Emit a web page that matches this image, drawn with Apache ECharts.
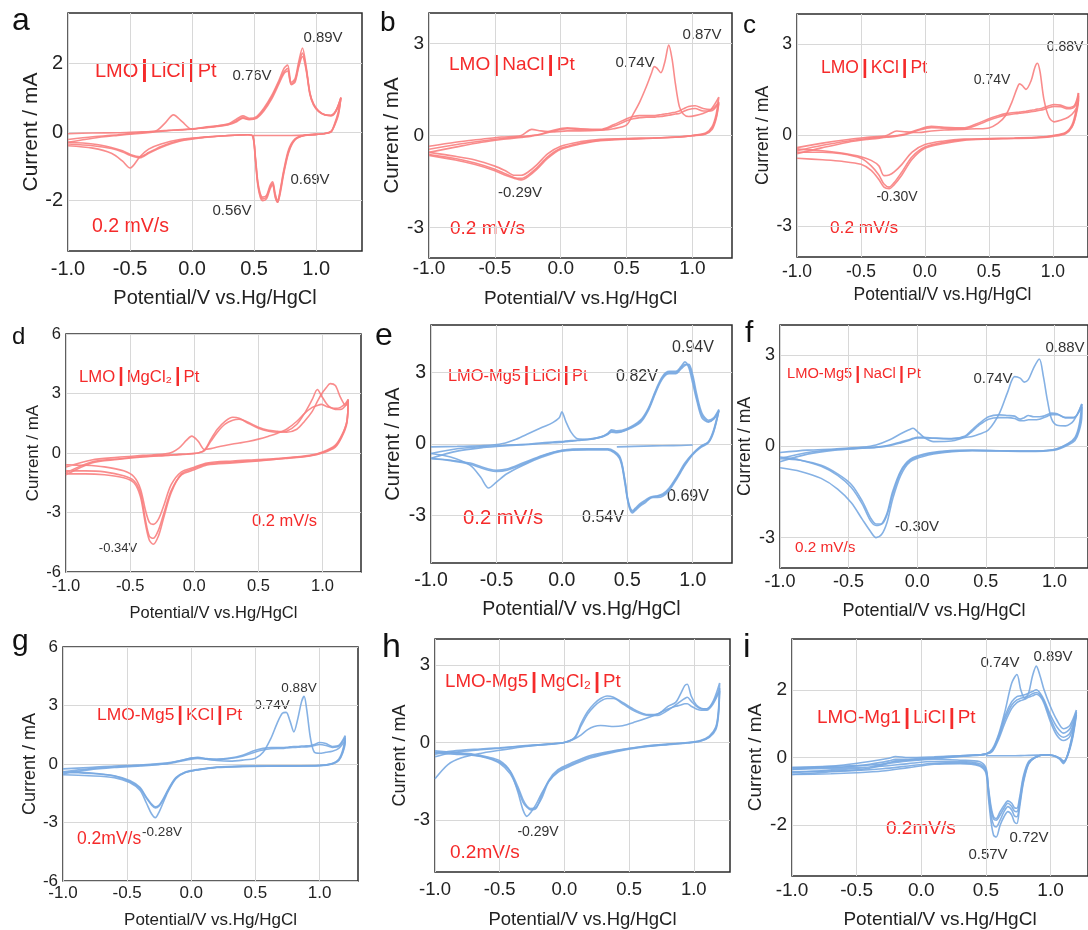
<!DOCTYPE html>
<html>
<head>
<meta charset="utf-8">
<script src="https://cdn.jsdelivr.net/npm/echarts@6/dist/echarts.min.js"></script>
<style>
  html, body { margin: 0; background: #fff; }
  #main { width: 1088px; height: 930px; }
</style>
</head>
<body>
<div id="main"></div>
<script>
// ---- data (potential V, current mA) ----
// a: LMO | LiCl | Pt
const aFwdX = [-1.0, -0.8, -0.6, -0.45, -0.3, -0.22, -0.15, -0.08, 0.0, 0.1, 0.2, 0.3, 0.36, 0.41, 0.46, 0.52, 0.58, 0.64, 0.7, 0.74, 0.77, 0.8, 0.83, 0.86, 0.89, 0.92, 0.95, 0.98, 1.02, 1.07, 1.12, 1.16, 1.2];
const aFwd1 = [-0.05, -0.03, -0.02, 0.0, 0.02, 0.25, 0.5, 0.3, 0.08, 0.14, 0.18, 0.25, 0.38, 0.47, 0.4, 0.45, 0.7, 1.05, 1.5, 1.85, 1.95, 1.45, 1.55, 2.05, 2.45, 1.9, 1.15, 0.82, 0.62, 0.5, 0.47, 0.6, 1.0];
const aFwd2 = [-0.22, -0.14, -0.08, -0.03, 0.02, 0.04, 0.06, 0.07, 0.09, 0.13, 0.17, 0.23, 0.33, 0.42, 0.37, 0.42, 0.66, 1.0, 1.45, 1.75, 1.85, 1.4, 1.5, 1.95, 2.3, 1.85, 1.12, 0.8, 0.6, 0.5, 0.48, 0.62, 1.0];
const aFwd3 = [-0.3, -0.18, -0.1, -0.05, 0.0, 0.03, 0.05, 0.06, 0.08, 0.12, 0.16, 0.22, 0.3, 0.4, 0.36, 0.4, 0.62, 0.95, 1.4, 1.7, 1.78, 1.38, 1.45, 1.9, 2.2, 1.8, 1.1, 0.78, 0.6, 0.5, 0.49, 0.63, 1.0];
const aRevX = [1.2, 1.18, 1.15, 1.12, 1.06, 1.0, 0.9, 0.83, 0.78, 0.74, 0.71, 0.69, 0.67, 0.65, 0.63, 0.6, 0.57, 0.55, 0.53, 0.51, 0.49, 0.45, 0.3, 0.1, -0.1, -0.25, -0.35, -0.42, -0.5, -0.56, -0.65, -0.8, -1.0];
const aRev1 = [1.0, 0.6, 0.25, 0.02, -0.05, -0.07, -0.1, -0.2, -0.5, -1.1, -1.7, -2.0, -1.8, -1.45, -1.55, -1.85, -1.9, -1.8, -1.45, -0.7, -0.12, -0.08, -0.1, -0.15, -0.22, -0.35, -0.5, -0.72, -1.05, -0.85, -0.62, -0.47, -0.4];
const aRev2 = [1.0, 0.55, 0.22, 0.01, -0.05, -0.07, -0.1, -0.22, -0.55, -1.15, -1.75, -2.05, -1.85, -1.5, -1.6, -1.9, -1.95, -1.85, -1.5, -0.75, -0.12, -0.08, -0.1, -0.15, -0.25, -0.42, -0.6, -0.72, -0.65, -0.55, -0.45, -0.35, -0.3];
const aRev3 = [1.0, 0.5, 0.2, 0.0, -0.05, -0.07, -0.11, -0.23, -0.58, -1.2, -1.8, -2.05, -1.9, -1.55, -1.65, -1.95, -2.0, -1.9, -1.55, -0.8, -0.13, -0.08, -0.1, -0.16, -0.27, -0.45, -0.62, -0.75, -0.68, -0.58, -0.48, -0.4, -0.35];
const aInitX = [0.49, 0.6, 0.7, 0.8, 0.9, 1.0];
const aInitY = [-0.1, -0.1, -0.1, -0.1, -0.09, -0.07];

// b: LMO | NaCl | Pt
const bFwdX = [-1.0, -0.8, -0.6, -0.45, -0.3, -0.22, -0.15, -0.05, 0.05, 0.15, 0.3, 0.4, 0.5, 0.55, 0.6, 0.65, 0.69, 0.71, 0.73, 0.76, 0.79, 0.82, 0.845, 0.87, 0.9, 0.93, 0.97, 1.02, 1.08, 1.14, 1.2];
const bFwd1 = [-0.35, -0.22, -0.12, -0.05, 0.0, 0.2, 0.15, 0.12, 0.15, 0.15, 0.17, 0.22, 0.35, 0.7, 1.1, 1.6, 2.05, 2.25, 2.2, 2.05, 2.4, 2.95, 2.5, 1.7, 0.95, 0.7, 0.62, 0.65, 0.72, 0.85, 1.25];
const bFwd2 = [-0.45, -0.3, -0.18, -0.1, -0.04, 0.0, 0.05, 0.18, 0.25, 0.22, 0.2, 0.35, 0.55, 0.62, 0.65, 0.65, 0.65, 0.65, 0.66, 0.68, 0.7, 0.72, 0.74, 0.76, 0.8, 0.87, 0.95, 0.97, 0.88, 0.85, 1.1];
const bFwd3 = [-0.55, -0.38, -0.22, -0.13, -0.06, -0.02, 0.03, 0.15, 0.22, 0.2, 0.18, 0.3, 0.48, 0.55, 0.58, 0.6, 0.6, 0.6, 0.61, 0.62, 0.64, 0.66, 0.68, 0.7, 0.72, 0.78, 0.85, 0.88, 0.8, 0.8, 1.05];
const bRevX = [1.2, 1.18, 1.15, 1.1, 1.0, 0.9, 0.7, 0.5, 0.3, 0.15, 0.0, -0.1, -0.18, -0.25, -0.3, -0.35, -0.42, -0.5, -0.65, -0.8, -1.0];
const bRev1 = [1.25, 0.7, 0.3, 0.08, 0.0, -0.04, -0.08, -0.1, -0.12, -0.2, -0.35, -0.6, -0.95, -1.2, -1.3, -1.3, -1.15, -1.0, -0.8, -0.68, -0.55];
const bRev2 = [1.1, 0.6, 0.25, 0.06, 0.0, -0.05, -0.08, -0.11, -0.15, -0.25, -0.42, -0.7, -1.05, -1.3, -1.4, -1.38, -1.25, -1.1, -0.9, -0.75, -0.62];
const bRev3 = [1.05, 0.55, 0.2, 0.05, -0.01, -0.05, -0.09, -0.12, -0.17, -0.28, -0.45, -0.75, -1.1, -1.35, -1.45, -1.4, -1.3, -1.15, -0.95, -0.8, -0.65];

// c: LMO | KCl | Pt
const cFwdX = [-1.0, -0.8, -0.6, -0.45, -0.3, -0.22, -0.15, -0.05, 0.05, 0.15, 0.3, 0.4, 0.5, 0.57, 0.63, 0.68, 0.72, 0.74, 0.76, 0.79, 0.83, 0.86, 0.88, 0.9, 0.93, 0.97, 1.01, 1.06, 1.12, 1.17, 1.2];
const cFwd1 = [-0.4, -0.25, -0.13, -0.06, 0.0, 0.15, 0.12, 0.1, 0.15, 0.18, 0.2, 0.22, 0.25, 0.4, 0.65, 1.1, 1.55, 1.7, 1.65, 1.52, 1.8, 2.25, 2.38, 2.1, 1.2, 0.6, 0.45, 0.5, 0.6, 0.8, 1.15];
const cFwd2 = [-0.5, -0.32, -0.18, -0.1, -0.04, 0.0, 0.05, 0.2, 0.3, 0.27, 0.25, 0.38, 0.55, 0.65, 0.72, 0.75, 0.76, 0.77, 0.78, 0.8, 0.83, 0.85, 0.87, 0.88, 0.92, 0.98, 1.02, 1.0, 0.92, 1.0, 1.4];
const cFwd3 = [-0.6, -0.4, -0.22, -0.13, -0.06, -0.02, 0.03, 0.17, 0.26, 0.24, 0.22, 0.33, 0.5, 0.6, 0.67, 0.7, 0.72, 0.73, 0.74, 0.76, 0.78, 0.8, 0.82, 0.83, 0.86, 0.92, 0.96, 0.95, 0.88, 0.95, 1.3];
const cRevX = [1.2, 1.18, 1.15, 1.1, 1.0, 0.9, 0.7, 0.5, 0.3, 0.15, 0.0, -0.1, -0.18, -0.24, -0.28, -0.32, -0.36, -0.42, -0.5, -0.65, -0.8, -1.0];
const cRev1 = [1.4, 0.8, 0.35, 0.1, 0.0, -0.05, -0.08, -0.1, -0.12, -0.18, -0.3, -0.55, -0.95, -1.2, -1.3, -1.32, -1.0, -0.82, -0.7, -0.58, -0.5, -0.45];
const cRev2 = [1.3, 0.7, 0.3, 0.08, -0.02, -0.06, -0.09, -0.11, -0.14, -0.22, -0.38, -0.7, -1.2, -1.55, -1.7, -1.6, -1.3, -1.0, -0.75, -0.6, -0.55, -0.55];
const cRev3 = [1.15, 0.65, 0.28, 0.06, -0.03, -0.07, -0.1, -0.12, -0.16, -0.26, -0.42, -0.78, -1.3, -1.62, -1.75, -1.7, -1.45, -1.15, -0.95, -0.85, -0.8, -0.75];

// d: LMO | MgCl2 | Pt
const dFwdX = [-1.0, -0.8, -0.6, -0.4, -0.2, -0.12, -0.06, -0.02, 0.03, 0.08, 0.13, 0.18, 0.24, 0.3, 0.35, 0.42, 0.5, 0.58, 0.65, 0.72, 0.8, 0.86, 0.92, 0.96, 0.99, 1.03, 1.06, 1.1, 1.14, 1.18, 1.2];
const dFwd1 = [-0.7, -0.35, -0.22, -0.12, -0.02, 0.25, 0.65, 0.85, 0.6, 0.18, 0.22, 0.3, 0.38, 0.45, 0.5, 0.58, 0.7, 0.85, 1.0, 1.2, 1.6, 2.0, 2.3, 2.4, 2.45, 2.35, 2.3, 2.25, 2.3, 2.5, 2.7];
const dFwd2 = [-1.0, -0.45, -0.3, -0.18, -0.1, -0.07, -0.05, -0.03, 0.0, 0.15, 0.7, 1.2, 1.6, 1.8, 1.75, 1.5, 1.25, 1.1, 1.05, 1.1, 1.45, 2.0, 2.7, 3.2, 2.9, 2.5, 2.3, 2.2, 2.2, 2.4, 2.7];
const dFwd3 = [-1.1, -0.5, -0.33, -0.2, -0.12, -0.08, -0.06, -0.04, 0.0, 0.12, 0.6, 1.05, 1.45, 1.65, 1.7, 1.55, 1.3, 1.15, 1.1, 1.05, 1.2, 1.6, 2.1, 2.6, 2.95, 3.3, 3.5, 3.4, 2.8, 2.4, 2.65];
const dRevX = [1.2, 1.19, 1.15, 1.1, 1.0, 0.9, 0.7, 0.5, 0.3, 0.1, 0.0, -0.1, -0.18, -0.24, -0.28, -0.32, -0.35, -0.38, -0.42, -0.47, -0.55, -0.7, -0.85, -1.0];
const dRev1 = [2.7, 1.6, 0.9, 0.4, 0.05, -0.12, -0.25, -0.33, -0.4, -0.5, -0.72, -0.95, -1.6, -2.7, -3.35, -3.6, -3.5, -2.9, -1.8, -1.2, -0.9, -0.7, -0.62, -0.6];
const dRev2 = [2.7, 1.5, 0.8, 0.3, 0.0, -0.15, -0.28, -0.4, -0.5, -0.6, -0.85, -1.1, -1.9, -3.1, -3.9, -4.3, -4.2, -3.4, -2.0, -1.4, -1.15, -0.95, -0.9, -0.9];
const dRev3 = [2.65, 1.6, 0.85, 0.35, 0.02, -0.14, -0.27, -0.38, -0.45, -0.55, -0.78, -1.05, -2.0, -3.3, -4.2, -4.6, -4.4, -3.6, -2.2, -1.5, -1.25, -1.1, -1.05, -1.05];

// e: LMO-Mg5 | LiCl | Pt
const eFwdX = [-1.0, -0.8, -0.6, -0.45, -0.35, -0.25, -0.15, -0.07, -0.02, 0.0, 0.03, 0.07, 0.12, 0.2, 0.3, 0.35, 0.38, 0.42, 0.5, 0.6, 0.66, 0.72, 0.77, 0.82, 0.87, 0.91, 0.94, 0.97, 1.0, 1.03, 1.07, 1.12, 1.16, 1.2];
const eFwd1 = [-0.12, -0.1, -0.07, 0.02, 0.2, 0.45, 0.7, 0.9, 1.1, 1.35, 0.95, 0.5, 0.22, 0.2, 0.3, 0.45, 0.6, 0.55, 0.65, 1.0, 1.5, 2.3, 2.85, 3.05, 3.05, 3.25, 3.45, 3.2, 2.55, 1.85, 1.1, 0.92, 1.05, 1.4];
const eFwd2 = [-0.4, -0.2, -0.1, -0.06, -0.03, 0.0, 0.05, 0.08, 0.1, 0.1, 0.12, 0.14, 0.16, 0.2, 0.3, 0.42, 0.55, 0.5, 0.62, 0.95, 1.45, 2.25, 2.8, 3.0, 3.0, 3.2, 3.35, 3.3, 2.75, 1.95, 1.2, 0.95, 1.05, 1.4];
const eFwd3 = [-0.6, -0.3, -0.15, -0.08, -0.05, -0.02, 0.02, 0.05, 0.07, 0.08, 0.1, 0.12, 0.15, 0.18, 0.28, 0.4, 0.5, 0.48, 0.6, 0.9, 1.4, 2.2, 2.75, 2.95, 2.95, 3.15, 3.3, 3.35, 2.9, 2.1, 1.3, 1.0, 1.1, 1.45];
const eRevX = [1.2, 1.16, 1.12, 1.06, 1.0, 0.94, 0.88, 0.82, 0.77, 0.73, 0.7, 0.67, 0.64, 0.6, 0.56, 0.54, 0.52, 0.5, 0.48, 0.44, 0.35, 0.2, 0.0, -0.15, -0.3, -0.42, -0.5, -0.56, -0.62, -0.7, -0.85, -1.0];
const eRev1 = [1.4, 0.5, 0.05, -0.15, -0.45, -0.9, -1.45, -1.95, -2.2, -2.25, -2.25, -2.3, -2.45, -2.6, -2.8, -2.9, -2.75, -2.3, -1.6, -0.6, -0.25, -0.25, -0.3, -0.55, -0.9, -1.25, -1.6, -1.85, -1.4, -0.9, -0.55, -0.4];
const eRev2 = [1.4, 0.55, 0.08, -0.12, -0.42, -0.85, -1.4, -1.9, -2.15, -2.2, -2.22, -2.28, -2.4, -2.55, -2.75, -2.85, -2.7, -2.25, -1.5, -0.55, -0.22, -0.22, -0.28, -0.5, -0.85, -1.1, -1.15, -1.1, -1.0, -0.85, -0.7, -0.6];
const eRev3 = [1.45, 0.6, 0.1, -0.1, -0.4, -0.8, -1.35, -1.85, -2.1, -2.18, -2.2, -2.25, -2.35, -2.5, -2.7, -2.8, -2.65, -2.2, -1.45, -0.5, -0.2, -0.2, -0.26, -0.48, -0.8, -1.05, -1.1, -1.05, -0.95, -0.8, -0.68, -0.62];
const eInitX = [0.42, 0.55, 0.7, 0.85, 1.0];
const eInitY = [-0.12, -0.1, -0.08, -0.07, -0.04];

// f: LMO-Mg5 | NaCl | Pt
const fFwdX = [-1.0, -0.8, -0.6, -0.4, -0.3, -0.2, -0.12, -0.06, -0.03, 0.0, 0.05, 0.12, 0.25, 0.35, 0.4, 0.45, 0.52, 0.6, 0.66, 0.71, 0.75, 0.78, 0.81, 0.85, 0.89, 0.92, 0.95, 0.98, 1.02, 1.08, 1.14, 1.2];
const fFwd1 = [-0.2, -0.12, -0.08, -0.02, 0.05, 0.22, 0.42, 0.55, 0.6, 0.5, 0.3, 0.16, 0.18, 0.3, 0.33, 0.4, 0.55, 1.1, 1.8, 2.3, 2.25, 2.12, 2.2, 2.6, 2.88, 2.3, 1.5, 0.9, 0.7, 0.68, 0.85, 1.4];
const fFwd2 = [-0.4, -0.2, -0.1, -0.05, -0.02, 0.05, 0.15, 0.22, 0.27, 0.3, 0.3, 0.28, 0.26, 0.35, 0.55, 0.75, 0.98, 1.04, 1.02, 1.0, 0.9, 0.95, 1.02, 0.98, 0.98, 1.0, 1.05, 1.1, 1.08, 0.95, 0.95, 1.4];
const fFwd3 = [-0.5, -0.25, -0.12, -0.06, -0.03, 0.03, 0.12, 0.2, 0.25, 0.28, 0.28, 0.27, 0.25, 0.32, 0.5, 0.7, 0.9, 0.95, 0.95, 0.92, 0.85, 0.85, 0.88, 0.88, 0.9, 0.95, 1.0, 1.05, 1.05, 0.95, 0.95, 1.3];
const fRevX = [1.2, 1.18, 1.15, 1.1, 1.0, 0.8, 0.6, 0.4, 0.2, 0.05, -0.05, -0.12, -0.18, -0.22, -0.26, -0.3, -0.34, -0.4, -0.48, -0.58, -0.7, -0.85, -1.0];
const fRev1 = [1.4, 0.7, 0.3, 0.1, -0.1, -0.15, -0.14, -0.12, -0.15, -0.25, -0.42, -0.8, -1.5, -2.2, -2.55, -2.6, -2.45, -1.9, -1.35, -0.95, -0.65, -0.45, -0.35];
const fRev2 = [1.3, 0.6, 0.25, 0.08, -0.1, -0.15, -0.14, -0.13, -0.17, -0.28, -0.46, -0.85, -1.6, -2.25, -2.55, -2.55, -2.35, -1.8, -1.25, -0.9, -0.62, -0.45, -0.4];
const fRev3 = [1.0, 0.5, 0.2, 0.05, -0.12, -0.16, -0.15, -0.14, -0.2, -0.32, -0.5, -0.95, -1.75, -2.5, -2.9, -3.0, -2.8, -2.4, -1.85, -1.4, -1.05, -0.82, -0.7];

// g: LMO-Mg5 | KCl | Pt
const gFwdX = [-1.0, -0.8, -0.6, -0.4, -0.2, -0.1, 0.0, 0.05, 0.12, 0.2, 0.3, 0.4, 0.5, 0.56, 0.62, 0.67, 0.71, 0.74, 0.77, 0.8, 0.83, 0.86, 0.88, 0.9, 0.93, 0.96, 1.0, 1.05, 1.1, 1.15, 1.2];
const gFwd1 = [-0.25, -0.18, -0.1, -0.05, 0.05, 0.15, 0.3, 0.35, 0.25, 0.18, 0.15, 0.2, 0.3, 0.6, 1.3, 2.1, 2.6, 2.65, 2.2, 1.65, 2.3, 3.2, 3.47, 2.8, 1.3, 0.6, 0.55, 0.6, 0.65, 0.8, 1.2];
const gFwd2 = [-0.4, -0.25, -0.15, -0.07, 0.02, 0.15, 0.3, 0.32, 0.28, 0.25, 0.3, 0.45, 0.7, 0.8, 0.85, 0.85, 0.85, 0.86, 0.88, 0.9, 0.9, 0.92, 0.92, 0.93, 0.95, 1.0, 1.1, 1.05, 0.9, 0.95, 1.45];
const gFwd3 = [-0.5, -0.3, -0.18, -0.1, 0.0, 0.12, 0.25, 0.28, 0.25, 0.22, 0.28, 0.4, 0.62, 0.72, 0.78, 0.8, 0.8, 0.82, 0.84, 0.85, 0.86, 0.87, 0.88, 0.88, 0.9, 0.95, 1.0, 0.95, 0.85, 0.9, 1.35];
const gRevX = [1.2, 1.18, 1.15, 1.1, 1.0, 0.8, 0.6, 0.4, 0.2, 0.05, -0.05, -0.12, -0.18, -0.22, -0.25, -0.28, -0.31, -0.35, -0.4, -0.48, -0.6, -0.8, -1.0];
const gRev1 = [1.2, 0.6, 0.2, 0.02, -0.08, -0.1, -0.1, -0.12, -0.17, -0.3, -0.45, -0.75, -1.4, -2.0, -2.45, -2.75, -2.55, -2.0, -1.35, -0.95, -0.7, -0.6, -0.55];
const gRev2 = [1.4, 0.7, 0.25, 0.03, -0.07, -0.09, -0.1, -0.11, -0.16, -0.28, -0.42, -0.7, -1.3, -1.8, -2.1, -2.2, -2.05, -1.7, -1.2, -0.85, -0.6, -0.45, -0.4];
const gRev3 = [1.1, 0.55, 0.18, 0.0, -0.09, -0.11, -0.11, -0.13, -0.18, -0.3, -0.44, -0.72, -1.35, -1.85, -2.15, -2.25, -2.1, -1.75, -1.25, -0.9, -0.62, -0.48, -0.42];

// h: LMO-Mg5 | MgCl2 | Pt
const hFwdX = [-1.0, -0.9, -0.8, -0.65, -0.5, -0.3, -0.1, 0.0, 0.08, 0.13, 0.18, 0.23, 0.28, 0.33, 0.38, 0.45, 0.55, 0.65, 0.72, 0.8, 0.86, 0.9, 0.93, 0.95, 0.98, 1.02, 1.06, 1.1, 1.15, 1.2];
const hFwd1 = [-1.4, -0.85, -0.6, -0.42, -0.3, -0.15, -0.05, 0.0, 0.15, 0.3, 0.5, 0.62, 0.66, 0.64, 0.62, 0.65, 0.8, 0.97, 1.1, 1.3, 1.4, 1.45, 1.5, 1.5, 1.4, 1.3, 1.25, 1.25, 1.5, 2.0];
const hFwd2 = [-0.45, -0.35, -0.3, -0.25, -0.2, -0.12, -0.05, 0.0, 0.2, 0.75, 1.2, 1.5, 1.7, 1.8, 1.75, 1.55, 1.25, 1.08, 1.1, 1.4, 1.55, 1.9, 2.2, 2.25, 1.8, 1.45, 1.32, 1.3, 1.6, 2.3];
const hFwd3 = [-0.55, -0.42, -0.35, -0.28, -0.22, -0.13, -0.06, 0.0, 0.18, 0.65, 1.1, 1.4, 1.6, 1.7, 1.7, 1.5, 1.2, 1.05, 1.05, 1.25, 1.45, 1.6, 1.7, 1.75, 1.6, 1.4, 1.3, 1.3, 1.55, 2.1];
const hRevX = [1.2, 1.19, 1.17, 1.12, 1.05, 0.95, 0.8, 0.6, 0.4, 0.2, 0.05, -0.05, -0.12, -0.18, -0.22, -0.26, -0.29, -0.32, -0.36, -0.42, -0.5, -0.6, -0.7, -0.85, -1.0];
const hRev1 = [2.0, 1.0, 0.5, 0.2, 0.05, -0.02, -0.08, -0.18, -0.35, -0.6, -0.9, -1.15, -1.5, -2.0, -2.4, -2.7, -2.85, -2.6, -1.9, -1.1, -0.7, -0.55, -0.45, -0.38, -0.32];
const hRev2 = [2.3, 1.2, 0.6, 0.25, 0.08, 0.0, -0.06, -0.15, -0.3, -0.5, -0.8, -1.05, -1.45, -2.1, -2.55, -2.6, -2.5, -2.3, -1.8, -1.2, -0.8, -0.6, -0.5, -0.45, -0.4];
const hRev3 = [2.1, 1.1, 0.55, 0.22, 0.06, -0.01, -0.07, -0.16, -0.32, -0.55, -0.85, -1.1, -1.5, -2.2, -2.5, -2.55, -2.45, -2.2, -1.7, -1.1, -0.75, -0.58, -0.48, -0.42, -0.38];

// i: LMO-Mg1 | LiCl | Pt
const iFwdX = [-1.0, -0.8, -0.6, -0.4, -0.25, -0.2, -0.1, 0.1, 0.3, 0.45, 0.5, 0.55, 0.6, 0.65, 0.7, 0.74, 0.77, 0.8, 0.83, 0.86, 0.89, 0.92, 0.95, 1.0, 1.05, 1.1, 1.15, 1.2];
const iFwd1 = [-0.3, -0.28, -0.22, -0.12, -0.02, 0.03, 0.0, 0.02, 0.05, 0.08, 0.1, 0.25, 0.7, 1.4, 2.2, 2.45, 2.0, 1.75, 1.9, 2.4, 2.7, 2.4, 2.0, 1.5, 1.1, 0.85, 0.95, 1.4];
const iFwd2 = [-0.35, -0.3, -0.28, -0.2, -0.1, -0.05, -0.05, 0.0, 0.05, 0.08, 0.1, 0.22, 0.65, 1.25, 1.65, 1.8, 1.82, 1.85, 1.9, 1.95, 2.0, 1.9, 1.7, 1.25, 0.9, 0.72, 0.85, 1.35];
const iFwd3 = [-0.45, -0.4, -0.35, -0.28, -0.15, -0.1, -0.08, -0.02, 0.04, 0.08, 0.1, 0.2, 0.6, 1.15, 1.55, 1.7, 1.75, 1.78, 1.82, 1.88, 1.92, 1.85, 1.65, 1.15, 0.75, 0.6, 0.72, 1.3];
const iFwd4 = [-0.5, -0.45, -0.4, -0.32, -0.18, -0.13, -0.1, -0.04, 0.03, 0.07, 0.1, 0.18, 0.55, 1.05, 1.45, 1.62, 1.68, 1.72, 1.78, 1.82, 1.87, 1.8, 1.6, 1.05, 0.65, 0.5, 0.62, 1.25];
const iRevX = [1.2, 1.17, 1.13, 1.1, 1.07, 1.02, 0.95, 0.88, 0.83, 0.79, 0.76, 0.74, 0.72, 0.7, 0.67, 0.64, 0.61, 0.58, 0.56, 0.54, 0.52, 0.5, 0.45, 0.3, 0.1, -0.1, -0.3, -0.5, -0.7, -1.0];
const iRev1 = [1.4, 0.7, 0.05, -0.18, -0.05, 0.05, 0.08, 0.0, -0.2, -0.75, -1.5, -1.95, -1.9, -1.7, -1.6, -1.75, -2.0, -2.35, -2.3, -1.9, -1.2, -0.45, -0.25, -0.18, -0.2, -0.3, -0.4, -0.45, -0.48, -0.5];
const iRev2 = [1.35, 0.65, 0.05, -0.15, -0.03, 0.06, 0.08, 0.0, -0.18, -0.7, -1.4, -1.75, -1.72, -1.55, -1.45, -1.6, -1.85, -2.05, -2.0, -1.7, -1.05, -0.4, -0.22, -0.15, -0.17, -0.25, -0.33, -0.38, -0.4, -0.42];
const iRev3 = [1.3, 0.6, 0.04, -0.12, -0.02, 0.06, 0.08, 0.0, -0.15, -0.62, -1.3, -1.6, -1.58, -1.45, -1.35, -1.5, -1.7, -1.85, -1.82, -1.55, -0.95, -0.35, -0.18, -0.12, -0.12, -0.18, -0.26, -0.3, -0.32, -0.35];
const iRev4 = [1.25, 0.55, 0.03, -0.1, -0.01, 0.06, 0.08, 0.0, -0.12, -0.55, -1.2, -1.5, -1.48, -1.35, -1.28, -1.42, -1.6, -1.8, -1.75, -1.45, -0.9, -0.3, -0.12, -0.08, -0.05, -0.1, -0.2, -0.24, -0.26, -0.3];
const iInitX = [0.5, 0.6, 0.7, 0.8, 0.9, 1.0];
const iInitY = [0.05, 0.05, 0.05, 0.06, 0.07, 0.07];

const xTicks = [-1.0, -0.5, 0.0, 0.5, 1.0];

const RED = 'rgba(248, 128, 128, 0.9)';
const BLUE = 'rgba(120, 168, 225, 0.9)';
const LABEL_RED = '#f52a2a';
const FONT = 'Arial, "Liberation Sans", sans-serif';

// box: [left, top, width, height]; fs: tick/x-title size, fy: y-title size, nf: note size
const panels = [
  { letter: 'a', lp: [12, 21, 32], box: [68, 13, 294, 238], xr: [-1, 1.37], yr: [-3.47, 3.47], yt: [-2, 0, 2], col: RED,
    fs: 20, fy: 21, nf: 15, xGap: 37.5, yGap: 26, lblM: 8.5,
    loops: [[aFwdX, aFwd1, aRevX, aRev1], [aFwdX, aFwd2, aRevX, aRev2], [aFwdX, aFwd3, aRevX, aRev3]], extra: [[aInitX, aInitY]],
    title: ['LMO', 'LiCl', 'Pt', 95, 71, 20], rate: ['0.2 mV/s', 92, 227, 19.5],
    notes: [['0.89V', 323, 38], ['0.76V', 252, 76], ['0.69V', 310, 180], ['0.56V', 232, 211]] },
  { letter: 'b', lp: [380, 23, 28], box: [429, 13, 303, 245], xr: [-1, 1.30], yr: [-4, 4], yt: [-3, 0, 3], col: RED,
    fs: 19, fy: 20.5, nf: 15, xGap: 31, yGap: 25, lblM: 1,
    loops: [[bFwdX, bFwd1, bRevX, bRev1], [bFwdX, bFwd2, bRevX, bRev2], [bFwdX, bFwd3, bRevX, bRev3]], extra: [],
    title: ['LMO', 'NaCl', 'Pt', 449, 65, 19], rate: ['0.2 mV/s', 450, 229, 19],
    notes: [['0.87V', 702, 35], ['0.74V', 635, 63], ['-0.29V', 520, 193]] },
  { letter: 'c', lp: [743, 26, 26], box: [797, 14, 298, 243], xr: [-1, 1.275], yr: [-4, 4], yt: [-3, 0, 3], col: RED,
    fs: 17.5, fy: 17.5, nf: 14, xGap: 29.5, yGap: 24.5, lblM: 6.5,
    loops: [[cFwdX, cFwd1, cRevX, cRev1], [cFwdX, cFwd2, cRevX, cRev2], [cFwdX, cFwd3, cRevX, cRev3]], extra: [],
    title: ['LMO', 'KCl', 'Pt', 821, 68, 17.5], rate: ['0.2 mV/s', 830, 228, 17.3],
    notes: [['0.88V', 1065, 47], ['0.74V', 992, 80], ['-0.30V', 897, 197]] },
  { letter: 'd', lp: [12, 337, 24], box: [66, 334, 295, 238], xr: [-1, 1.30], yr: [-6, 6], yt: [-6, -3, 0, 3, 6], col: RED,
    fs: 16.5, fy: 17, nf: 13, xGap: 33, yGap: 24, lblM: 6,
    loops: [[dFwdX, dFwd1, dRevX, dRev1], [dFwdX, dFwd2, dRevX, dRev2], [dFwdX, dFwd3, dRevX, dRev3]], extra: [],
    title: ['LMO', 'MgCl\u2082', 'Pt', 79, 377, 16.7], rate: ['0.2 mV/s', 252, 521, 16.5],
    notes: [['-0.34V', 118, 548]] },
  { letter: 'e', lp: [375, 336, 32], box: [431, 325, 301, 238], xr: [-1, 1.30], yr: [-5, 5], yt: [-3, 0, 3], col: BLUE,
    fs: 19.5, fy: 20, nf: 16, xGap: 36.5, yGap: 27.5, lblM: 7.5,
    loops: [[eFwdX, eFwd1, eRevX, eRev1], [eFwdX, eFwd2, eRevX, eRev2], [eFwdX, eFwd3, eRevX, eRev3]], extra: [[eInitX, eInitY]],
    title: ['LMO-Mg5', 'LiCl', 'Pt', 448, 376, 16.4], rate: ['0.2 mV/s', 463, 518, 20.3],
    notes: [['0.94V', 693, 348], ['0.82V', 637, 377], ['0.69V', 688, 497], ['0.54V', 603, 518]] },
  { letter: 'f', lp: [745, 334, 30], box: [780, 325, 312, 243], xr: [-1, 1.245], yr: [-4, 4], yt: [-3, 0, 3], col: BLUE,
    fs: 18, fy: 17.5, nf: 15, xGap: 34.5, yGap: 25.5, lblM: 5.5,
    loops: [[fFwdX, fFwd1, fRevX, fRev1], [fFwdX, fFwd2, fRevX, fRev2], [fFwdX, fFwd3, fRevX, fRev3]], extra: [],
    title: ['LMO-Mg5', 'NaCl', 'Pt', 787, 374, 14.7], rate: ['0.2 mV/s', 795, 548, 15.3],
    notes: [['0.88V', 1065, 348], ['0.74V', 993, 379], ['-0.30V', 917, 527]] },
  { letter: 'g', lp: [12, 642, 30], box: [63, 647, 295, 237], xr: [-1, 1.30], yr: [-6, 6], yt: [-6, -3, 0, 3, 6], col: BLUE,
    fs: 17, fy: 18, nf: 13.5, xGap: 31, yGap: 22.5, lblM: 4,
    loops: [[gFwdX, gFwd1, gRevX, gRev1], [gFwdX, gFwd2, gRevX, gRev2], [gFwdX, gFwd3, gRevX, gRev3]], extra: [],
    title: ['LMO-Mg5', 'KCl', 'Pt', 97, 715, 17.4], rate: ['0.2mV/s', 77, 839, 17.5],
    notes: [['0.88V', 299, 688], ['0.74V', 272, 705], ['-0.28V', 162, 832]] },
  { letter: 'h', lp: [382, 648, 34], box: [435, 639, 295, 238], xr: [-1, 1.28], yr: [-5, 4], yt: [-3, 0, 3], col: BLUE,
    fs: 18.5, fy: 18, nf: 14, xGap: 38, yGap: 25.5, lblM: 8,
    loops: [[hFwdX, hFwd1, hRevX, hRev1], [hFwdX, hFwd2, hRevX, hRev2], [hFwdX, hFwd3, hRevX, hRev3]], extra: [],
    title: ['LMO-Mg5', 'MgCl\u2082', 'Pt', 445, 682, 18.7], rate: ['0.2mV/s', 450, 853, 19],
    notes: [['-0.29V', 538, 832]] },
  { letter: 'i', lp: [743, 648, 34], box: [792, 639, 300, 243], xr: [-1, 1.29], yr: [-3.5, 3.5], yt: [-2, 0, 2], col: BLUE,
    fs: 19, fy: 19, nf: 15, xGap: 34, yGap: 27, lblM: 5,
    loops: [[iFwdX, iFwd1, iRevX, iRev1], [iFwdX, iFwd2, iRevX, iRev2], [iFwdX, iFwd3, iRevX, iRev3], [iFwdX, iFwd4, iRevX, iRev4]], extra: [[iInitX, iInitY]],
    title: ['LMO-Mg1', 'LiCl', 'Pt', 817, 718, 18.9], rate: ['0.2mV/s', 886, 829, 19],
    notes: [['0.74V', 1000, 663], ['0.89V', 1053, 657], ['0.72V', 1029, 838], ['0.57V', 988, 855]] }
];

function zip(xs, ys) {
  return xs.map((x, i) => [x, ys[i]]);
}

const grids = [], xAxes = [], yAxes = [], series = [], graphics = [];

panels.forEach((p, k) => {
  grids.push({
    left: p.box[0], top: p.box[1], width: p.box[2], height: p.box[3],
    show: true, borderColor: '#2b2b2b', borderWidth: 1.5, backgroundColor: 'transparent'
  });
  xAxes.push({
    type: 'value', gridIndex: k, min: p.xr[0], max: p.xr[1],
    axisLine: { show: false },
    axisTick: { show: false, customValues: xTicks },
    axisLabel: { customValues: xTicks, formatter: v => v.toFixed(1), fontSize: p.fs, color: '#222', margin: p.lblM, fontFamily: FONT },
    splitLine: { show: true, lineStyle: { color: '#d8d8d8', width: 1 } },
    name: 'Potential/V vs.Hg/HgCl', nameLocation: 'middle', nameGap: p.xGap,
    nameTextStyle: { fontSize: p.fs, color: '#222', fontFamily: FONT }
  });
  yAxes.push({
    type: 'value', gridIndex: k, min: p.yr[0], max: p.yr[1],
    axisLine: { show: false },
    axisTick: { show: false, customValues: p.yt },
    axisLabel: { customValues: p.yt, formatter: v => String(v), fontSize: p.fs, color: '#222', margin: 5, fontFamily: FONT },
    splitLine: { show: true, lineStyle: { color: '#d8d8d8', width: 1 } },
    name: 'Current / mA', nameLocation: 'middle', nameGap: p.yGap,
    nameTextStyle: { fontSize: p.fy, color: '#222', fontFamily: FONT }
  });

  const paths = p.loops.map(l => zip(l[0], l[1]).concat(zip(l[2], l[3])));
  p.extra.forEach(e => paths.push(zip(e[0], e[1])));
  paths.forEach(d => {
    series.push({
      type: 'line', xAxisIndex: k, yAxisIndex: k, data: d,
      showSymbol: false, smooth: 0.3, silent: true,
      lineStyle: { color: p.col, width: 1.6 }
    });
  });

  graphics.push({
    type: 'text', x: p.lp[0], y: p.lp[1],
    style: { text: p.letter, font: p.lp[2] + 'px ' + FONT, fill: '#111', textVerticalAlign: 'middle', verticalAlign: 'middle' }
  });
  const t = p.title;
  graphics.push({
    type: 'text', x: t[3], y: t[4],
    style: {
      text: t[0] + '{b||}' + t[1] + '{b||}' + t[2],
      font: t[5] + 'px ' + FONT, fill: LABEL_RED, textVerticalAlign: 'middle', verticalAlign: 'middle',
      rich: { b: { fontSize: t[5] + 3, fontWeight: 'bold', fill: LABEL_RED, color: LABEL_RED, padding: [0, 3, 0, 3], fontFamily: FONT } }
    }
  });
  const r = p.rate;
  graphics.push({
    type: 'text', x: r[1], y: r[2],
    style: { text: r[0], font: r[3] + 'px ' + FONT, fill: LABEL_RED, textVerticalAlign: 'middle', verticalAlign: 'middle' }
  });
  p.notes.forEach(n => {
    graphics.push({
      type: 'text', x: n[1], y: n[2],
      style: { text: n[0], font: p.nf + 'px ' + FONT, fill: '#333', textAlign: 'center', align: 'center', textVerticalAlign: 'middle', verticalAlign: 'middle' }
    });
  });
});

const chart = echarts.init(document.getElementById('main'));
chart.setOption({
  animation: false,
  backgroundColor: '#fff',
  textStyle: { fontFamily: FONT },
  grid: grids,
  xAxis: xAxes,
  yAxis: yAxes,
  series: series,
  graphic: graphics
});
</script>
</body>
</html>
